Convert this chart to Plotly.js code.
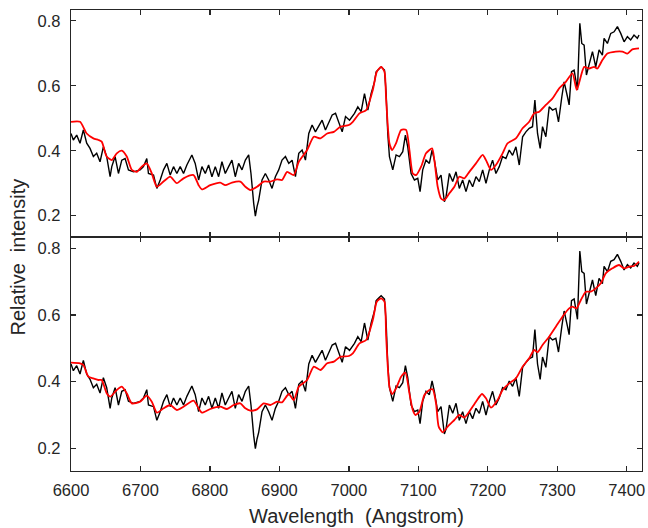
<!DOCTYPE html>
<html>
<head>
<meta charset="utf-8">
<script src="https://cdn.plot.ly/plotly-3.0.1.min.js"></script>
<style>html,body{margin:0;padding:0;background:#fff;}#chart{width:648px;height:528px;}</style>
</head>
<body>
<div id="chart"></div>
<script>
// Observed spectrum (same in both panels)
const obsWave = [6600,6603.4,6608.2,6613,6617.8,6622.6,6627.4,6632.2,6637,6641.8,6646.6,6651.4,6656.3,6658.7,6663.5,6668.3,6673.1,6677.9,6682.7,6689.9,6699.5,6704.3,6709.1,6711.5,6718.8,6723.6,6728.4,6733.2,6738,6742.8,6747.6,6752.4,6757.2,6762,6766.8,6774,6778.8,6783.7,6788.5,6793.3,6798.1,6802.9,6807.7,6812.5,6817.3,6822.1,6826.9,6831.7,6836.5,6841.3,6846.2,6851,6855.8,6859.1,6863,6865.4,6867.8,6870.2,6875,6879.8,6884.6,6889.4,6894.2,6899,6903.8,6908.7,6913.5,6918.3,6923.1,6927.9,6932.7,6937.5,6942.3,6947.1,6951.9,6956.7,6961.5,6966.3,6971.2,6976,6980.8,6985.6,6990.4,6995.2,7001,7008.1,7012.9,7017.7,7022.5,7027.3,7032.1,7036.9,7039.3,7044.1,7046.5,7051.3,7053.7,7056,7058.4,7063.2,7068,7072.8,7077.6,7081.4,7084.8,7089.6,7094.4,7099.2,7102.5,7106.3,7111.1,7115.9,7119.8,7123.1,7127.9,7132.7,7137.5,7139.9,7144.7,7149.5,7154.3,7159,7163.8,7168.6,7173.4,7178.2,7183,7187.8,7192.6,7197.4,7202.2,7206.9,7211.7,7216.5,7221.3,7226.1,7230.9,7235.7,7240.5,7245.3,7250.1,7254.9,7259.6,7264.4,7267.8,7271.6,7275.4,7278.8,7283.6,7288.4,7293.2,7298,7301.8,7306.6,7309.9,7314.7,7317.1,7320.5,7324.3,7329.1,7332.5,7335.3,7338.7,7342,7345.9,7350.7,7355.4,7360.2,7365,7367.4,7372.2,7377,7381.8,7386.6,7391.4,7396.2,7401,7405.7,7410.5,7415.3,7417.7];
const obsFlux = [0.453,0.433,0.448,0.423,0.464,0.423,0.407,0.382,0.392,0.366,0.412,0.382,0.320,0.351,0.382,0.330,0.371,0.376,0.341,0.335,0.341,0.351,0.376,0.330,0.325,0.284,0.310,0.341,0.361,0.325,0.351,0.330,0.351,0.330,0.356,0.387,0.361,0.310,0.351,0.330,0.356,0.320,0.351,0.320,0.366,0.330,0.351,0.371,0.320,0.361,0.341,0.371,0.387,0.330,0.238,0.199,0.228,0.248,0.310,0.330,0.310,0.284,0.320,0.341,0.371,0.382,0.361,0.371,0.320,0.392,0.402,0.371,0.453,0.479,0.458,0.474,0.494,0.464,0.489,0.510,0.515,0.484,0.458,0.505,0.494,0.515,0.535,0.520,0.576,0.525,0.576,0.612,0.643,0.653,0.658,0.648,0.576,0.453,0.382,0.341,0.387,0.382,0.397,0.448,0.412,0.330,0.310,0.315,0.274,0.341,0.371,0.361,0.402,0.371,0.310,0.325,0.243,0.258,0.330,0.305,0.335,0.284,0.310,0.274,0.310,0.289,0.320,0.305,0.341,0.300,0.341,0.371,0.330,0.351,0.382,0.376,0.402,0.386,0.412,0.356,0.443,0.458,0.469,0.474,0.556,0.453,0.407,0.474,0.443,0.535,0.525,0.530,0.489,0.566,0.612,0.566,0.541,0.643,0.648,0.587,0.792,0.730,0.725,0.633,0.669,0.705,0.658,0.710,0.694,0.746,0.730,0.761,0.766,0.782,0.761,0.735,0.751,0.741,0.756,0.746,0.756];

// Model A (top panel)
const modelAWave = [6600,6613,6622.6,6632.2,6639.4,6644.2,6651.4,6658.7,6665.9,6673.1,6680.3,6687.5,6694.7,6701.9,6709.1,6716.3,6723.6,6733.2,6742.8,6752.4,6762,6776.4,6783.7,6788.5,6800.5,6814.9,6822.1,6831.7,6843.8,6851,6858.2,6867.8,6877.4,6887,6896.6,6903.8,6911.1,6920.7,6927.9,6939.9,6949.5,6959.1,6968.8,6978.4,6988,7000,7005.7,7015.3,7024.9,7034.5,7040.2,7046.5,7051.3,7053.7,7058.4,7062.3,7068,7075.2,7082.4,7087.2,7092,7096.8,7104,7111.1,7119.8,7123.1,7127.9,7132.7,7137.5,7144.7,7151.9,7159,7166.2,7173.4,7183,7192.6,7197.4,7204.6,7211.7,7221.3,7228.5,7240.5,7250.1,7259.6,7266.8,7274,7283.6,7293.2,7302.8,7312.3,7321.9,7328.1,7338.7,7345.9,7353.1,7357.8,7365,7372.2,7384.2,7393.8,7401,7408.1,7417.7];
const modelAFlux = [0.489,0.489,0.453,0.438,0.433,0.428,0.382,0.371,0.392,0.400,0.382,0.341,0.335,0.351,0.361,0.330,0.289,0.305,0.320,0.300,0.315,0.325,0.294,0.281,0.294,0.302,0.294,0.302,0.305,0.289,0.279,0.289,0.305,0.305,0.312,0.310,0.335,0.325,0.366,0.402,0.443,0.438,0.453,0.458,0.474,0.479,0.489,0.515,0.525,0.587,0.643,0.658,0.643,0.556,0.423,0.402,0.423,0.464,0.464,0.402,0.330,0.325,0.351,0.392,0.407,0.371,0.289,0.253,0.248,0.269,0.289,0.320,0.315,0.335,0.361,0.387,0.371,0.341,0.356,0.392,0.423,0.438,0.469,0.489,0.515,0.520,0.541,0.561,0.592,0.612,0.638,0.587,0.658,0.653,0.658,0.653,0.679,0.699,0.705,0.705,0.699,0.712,0.715];

// Model B (bottom panel)
const modelBWave = [6600,6613,6617.8,6625,6632.2,6639.4,6644.2,6651.4,6656.3,6665.9,6673.1,6680.3,6687.5,6699.5,6709.1,6716.3,6723.6,6733.2,6742.8,6752.4,6762,6776.4,6783.7,6788.5,6800.5,6814.9,6824.5,6834.1,6843.8,6851,6858.2,6867.8,6877.4,6887,6896.6,6903.8,6913.5,6920.7,6927.9,6939.9,6949.5,6959.1,6968.8,6978.4,6988,7000,7005.7,7015.3,7024.9,7034.5,7040.2,7046.5,7051.3,7053.7,7058.4,7062.3,7068,7075.2,7081.4,7087.2,7092,7095.8,7101.6,7108.7,7115.9,7120.7,7125.5,7129.3,7135.1,7142.3,7151.9,7159,7166.2,7173.4,7183,7191.6,7197.4,7204.6,7214.1,7221.3,7230.9,7240.5,7250.1,7259.6,7266.8,7271.6,7278.8,7288.4,7298,7307.5,7317.1,7321.9,7327.7,7334,7341.2,7348.3,7355.5,7362.7,7369.8,7379.4,7389,7396.2,7403.4,7410.5,7417.7];
const modelBFlux = [0.457,0.455,0.450,0.415,0.410,0.405,0.405,0.365,0.355,0.375,0.385,0.365,0.335,0.340,0.358,0.340,0.307,0.320,0.330,0.315,0.325,0.343,0.320,0.307,0.318,0.325,0.318,0.330,0.335,0.320,0.313,0.317,0.335,0.330,0.340,0.338,0.363,0.345,0.385,0.405,0.445,0.435,0.455,0.460,0.475,0.477,0.485,0.515,0.525,0.585,0.640,0.650,0.640,0.535,0.385,0.363,0.380,0.415,0.427,0.365,0.315,0.300,0.310,0.360,0.375,0.377,0.335,0.265,0.248,0.265,0.285,0.300,0.292,0.310,0.340,0.363,0.350,0.322,0.345,0.375,0.395,0.410,0.445,0.470,0.495,0.488,0.510,0.535,0.565,0.595,0.620,0.625,0.620,0.645,0.670,0.670,0.680,0.695,0.725,0.740,0.750,0.740,0.745,0.747,0.760];

const yTicks = [0.2, 0.4, 0.6, 0.8];
const yTickText = ['0.2', '0.4', '0.6', '0.8'];
const xTicks = [6600, 6700, 6800, 6900, 7000, 7100, 7200, 7300, 7400];

const AX = '#262626';
const FONT = 'Liberation Sans, Arial, Helvetica, sans-serif';

const traces = [
  {x: obsWave, y: obsFlux, xaxis: 'x2', yaxis: 'y2', mode: 'lines', line: {color: '#000', width: 1.4}, hoverinfo: 'skip'},
  {x: modelAWave, y: modelAFlux, xaxis: 'x2', yaxis: 'y2', mode: 'lines', line: {color: '#ff0000', width: 1.8, shape: 'spline', smoothing: 0.6}, hoverinfo: 'skip'},
  {x: obsWave, y: obsFlux, xaxis: 'x', yaxis: 'y', mode: 'lines', line: {color: '#000', width: 1.4}, hoverinfo: 'skip'},
  {x: modelBWave, y: modelBFlux, xaxis: 'x', yaxis: 'y', mode: 'lines', line: {color: '#ff0000', width: 1.8, shape: 'spline', smoothing: 0.6}, hoverinfo: 'skip'}
];

const axCommon = {
  showline: true, linecolor: AX, linewidth: 1.3, mirror: 'allticks',
  ticks: 'inside', ticklen: 5, tickwidth: 1.3, tickcolor: AX,
  showgrid: false, zeroline: false,
  tickfont: {family: FONT, size: 16.5, color: AX}
};

const split = 234 / 461;
const layout = {
  width: 648, height: 528,
  margin: {l: 71, r: 6, t: 10, b: 57},
  paper_bgcolor: '#fff', plot_bgcolor: '#fff',
  showlegend: false,
  xaxis: Object.assign({}, axCommon, {range: [6600, 7422], tickvals: xTicks, anchor: 'y', domain: [0, 1], ticklabelstandoff: 4}),
  yaxis: Object.assign({}, axCommon, {range: [0.132, 0.834], tickvals: yTicks, ticktext: yTickText, domain: [0, split], anchor: 'x', ticklabelstandoff: 6}),
  xaxis2: Object.assign({}, axCommon, {range: [6600, 7422], tickvals: xTicks, anchor: 'y2', domain: [0, 1], showticklabels: false}),
  yaxis2: Object.assign({}, axCommon, {range: [0.1345, 0.833], tickvals: yTicks, ticktext: yTickText, domain: [split, 1], anchor: 'x2', ticklabelstandoff: 6}),
  annotations: [
    {text: 'Wavelength\u00A0 (Angstrom)', xref: 'paper', yref: 'paper', x: 0.5, y: -45 / 461, xanchor: 'center', yanchor: 'middle', showarrow: false, font: {family: FONT, size: 20, color: AX}},
    {text: 'Relative\u00A0 intensity', xref: 'paper', yref: 'paper', x: -54 / 571, y: 213.5 / 461, xanchor: 'center', yanchor: 'middle', textangle: -90, showarrow: false, font: {family: FONT, size: 20, color: AX}}
  ]
};

Plotly.newPlot('chart', traces, layout, {staticPlot: true, displayModeBar: false});
</script>
</body>
</html>
